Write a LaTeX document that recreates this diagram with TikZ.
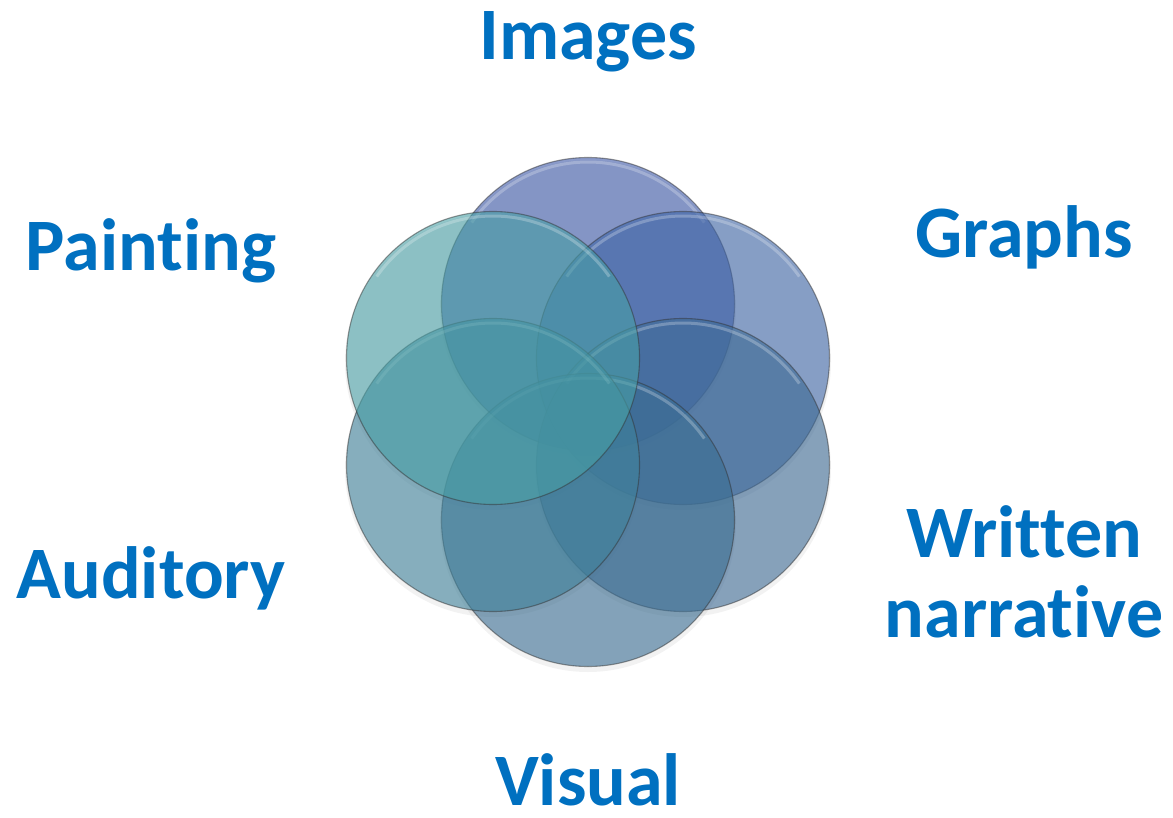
\documentclass[tikz,border=0pt]{standalone}
\usepackage{fontspec}
\setmainfont{Carlito}[Ligatures=NoCommon]
\usetikzlibrary{calc}
\begin{document}
\begin{tikzpicture}[x=1pt,y=-1pt,
  ring/.style={fill opacity=0.6, draw=black!80, draw opacity=0.5, line width=1.1pt},
  gloss/.style={white, line width=3pt, opacity=0.25},
  label/.style={text=labelblue, font=\fontsize{74}{82}\selectfont\bfseries, anchor=base, inner sep=0pt}]
\definecolor{labelblue}{RGB}{0,112,192}
\definecolor{cImages}{RGB}{60,88,168}
\definecolor{cGraphs}{RGB}{63,102,168}
\definecolor{cWritten}{RGB}{62,107,150}
\definecolor{cVisual}{RGB}{58,110,147}
\definecolor{cAuditory}{RGB}{63,130,155}
\definecolor{cPainting}{RGB}{72,160,166}
\useasboundingbox (0,0) rectangle (1173,818);
\fill[white] (0,0) rectangle (1173,818);

% six overlapping circles around a hexagon
\coordinate (pImages)   at (588,304);
\coordinate (pGraphs)   at (683,358);
\coordinate (pWritten)  at (683,465);
\coordinate (pVisual)   at (588,520);
\coordinate (pAuditory) at (493,465);
\coordinate (pPainting) at (493,358);

% soft drop shadow
\foreach \n in {Images,Graphs,Written,Visual,Auditory,Painting}{
  \fill[black, opacity=0.05] ($(p\n)+(0,4)$) circle[radius=148];
}
% translucent discs with a glossy rim on top
\foreach \n in {Images,Graphs,Written,Visual,Auditory,Painting}{
  \filldraw[ring, fill=c\n] (p\n) circle[radius=146.5];
  \draw[gloss] ($(p\n)+(-145:142)$) arc[start angle=-145, end angle=-35, radius=142];
}

% labels
\node[label] (tImages)   at (588,60)  {Images};
\node[label] (tGraphs)   at (1024,258) {Graphs};
\node[label] (tPainting) at (151,271) {Painting};
\node[label] (tAuditory) at (151,598) {Auditory};
\node[label] (tWritten)  at (1024,557) {Written};
\node[label] (tNarr)     at (1024,637) {narrative};
\node[label] (tVisual)   at (588,805) {Visual};
\end{tikzpicture}
\end{document}
